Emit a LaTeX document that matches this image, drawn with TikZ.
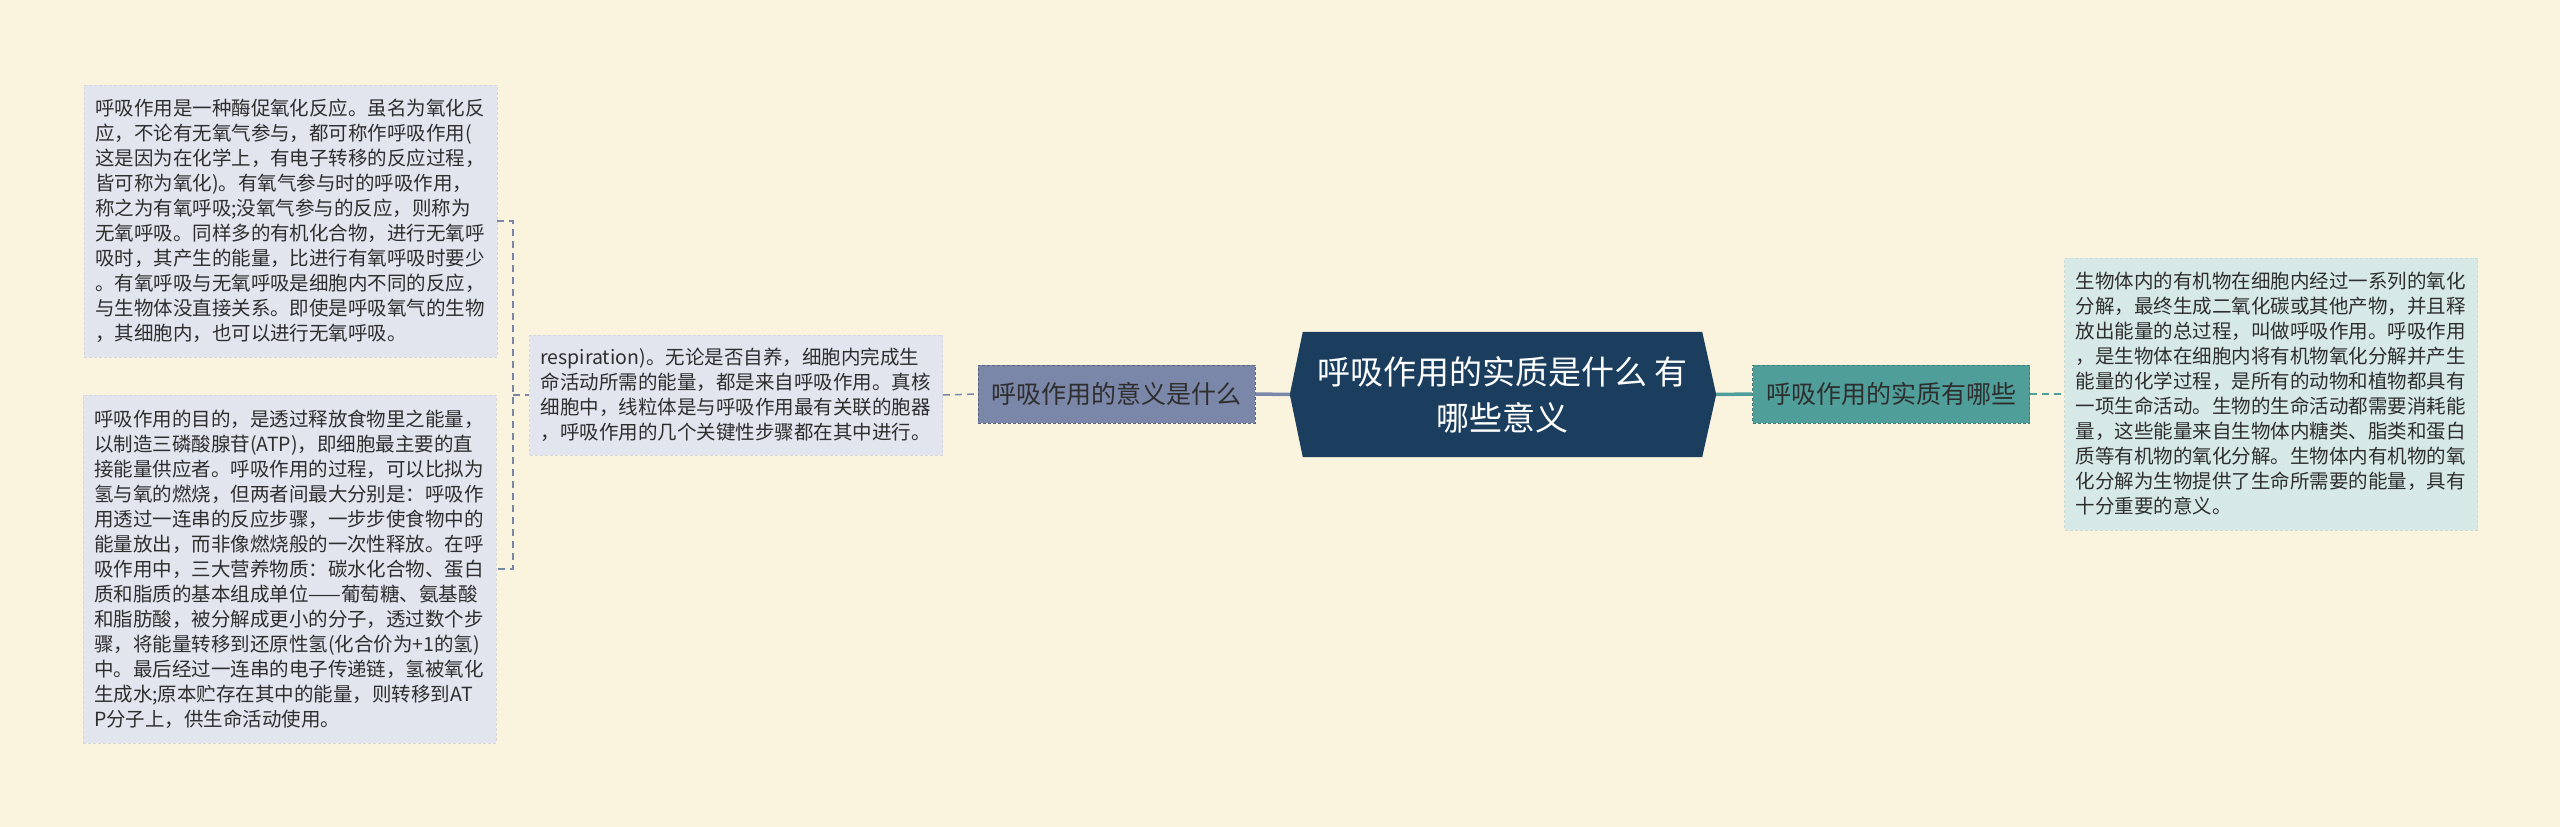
\documentclass[tikz,border=0pt]{standalone}
\usepackage{fontspec}
\setmainfont{Noto Sans CJK SC}
\usetikzlibrary{backgrounds}
\definecolor{bgcream}{HTML}{FAF4DF}
\definecolor{rootblue}{HTML}{1B3E5E}
\definecolor{leftblue}{HTML}{7B87A9}
\definecolor{leftpale}{HTML}{E2E5EE}
\definecolor{rightteal}{HTML}{4F9E9A}
\definecolor{rightpale}{HTML}{D6E9E7}
\definecolor{inkdark}{HTML}{2E2E2E}

\begin{document}
\begin{tikzpicture}[x=1pt,y=-1pt,
    leaf/.style={rectangle, text width=391pt, inner xsep=11pt, inner ysep=0pt, align=left, text=inkdark,
        densely dashed, line width=0.6pt, font=\fontsize{19.5pt}{25pt}\selectfont},
    leftleaf/.style={leaf, fill=leftpale, draw=leftpale!94!black},
    rightleaf/.style={leaf, fill=rightpale, draw=rightpale!94!black},
    branch/.style={rectangle, minimum width=277pt, minimum height=58pt, inner sep=0pt, text=inkdark,
        densely dashed, line width=1pt, font=\fontsize{25pt}{28pt}\selectfont},
    rootnode/.style={rectangle, minimum width=399pt, minimum height=125pt, inner sep=0pt, align=center,
        text=white, font=\fontsize{33pt}{46pt}\selectfont},
    lline/.style={leftblue, line width=1.5pt, dash pattern=on 7pt off 5pt},
    rline/.style={rightteal, line width=1.5pt, dash pattern=on 7pt off 5pt}]
\useasboundingbox (0,0) rectangle (2560,827);
\begin{scope}[on background layer]
    \fill[bgcream] (0,0) rectangle (2560,827);
\end{scope}

\node[rootnode] (root) at (1502.5,394.5) {呼吸作用的实质是什么 有\\哪些意义};
\begin{scope}[on background layer]
    \fill[rootblue] (root.north west) -- (root.north east) -- ([xshift=14pt]root.east)
        -- (root.south east) -- (root.south west) -- ([xshift=-13pt]root.west) -- cycle;
\end{scope}

\node[branch, fill=leftblue, draw=leftblue!75!black] (meaning) at (1116.5,394) {呼吸作用的意义是什么};
\node[branch, fill=rightteal, draw=rightteal!80!black] (essence) at (1891,394) {呼吸作用的实质有哪些};

\node[leftleaf, minimum height=120pt] (organelle) at (736,395) {respiration)。无论是否自养，细胞内完成生\\
命活动所需的能量，都是来自呼吸作用。真核\\
细胞中，线粒体是与呼吸作用最有关联的胞器\\
，呼吸作用的几个关键性步骤都在其中进行。};

\node[leftleaf, minimum height=272pt] (aerobic) at (290.5,221) {呼吸作用是一种酶促氧化反应。虽名为氧化反\\
应，不论有无氧气参与，都可称作呼吸作用(\\
这是因为在化学上，有电子转移的反应过程，\\
皆可称为氧化)。有氧气参与时的呼吸作用，\\
称之为有氧呼吸;没氧气参与的反应，则称为\\
无氧呼吸。同样多的有机化合物，进行无氧呼\\
吸时，其产生的能量，比进行有氧呼吸时要少\\
。有氧呼吸与无氧呼吸是细胞内不同的反应，\\
与生物体没直接关系。即使是呼吸氧气的生物\\
，其细胞内，也可以进行无氧呼吸。};

\node[leftleaf, minimum height=348pt] (atp) at (289.5,569) {呼吸作用的目的，是透过释放食物里之能量，\\
以制造三磷酸腺苷(ATP)，即细胞最主要的直\\
接能量供应者。呼吸作用的过程，可以比拟为\\
氢与氧的燃烧，但两者间最大分别是：呼吸作\\
用透过一连串的反应步骤，一步步使食物中的\\
能量放出，而非像燃烧般的一次性释放。在呼\\
吸作用中，三大营养物质：碳水化合物、蛋白\\
质和脂质的基本组成单位——葡萄糖、氨基酸\\
和脂肪酸，被分解成更小的分子，透过数个步\\
骤，将能量转移到还原性氢(化合价为+1的氢)\\
中。最后经过一连串的电子传递链，氢被氧化\\
生成水;原本贮存在其中的能量，则转移到AT\\
P分子上，供生命活动使用。};

\node[rightleaf, minimum height=272pt] (process) at (2271,394) {生物体内的有机物在细胞内经过一系列的氧化\\
分解，最终生成二氧化碳或其他产物，并且释\\
放出能量的总过程，叫做呼吸作用。呼吸作用\\
，是生物体在细胞内将有机物氧化分解并产生\\
能量的化学过程，是所有的动物和植物都具有\\
一项生命活动。生物的生命活动都需要消耗能\\
量，这些能量来自生物体内糖类、脂类和蛋白\\
质等有机物的氧化分解。生物体内有机物的氧\\
化分解为生物提供了生命所需要的能量，具有\\
十分重要的意义。};

\coordinate (fork) at (513,395);
\draw[lline] (aerobic.east) -| (fork) |- (atp.east);
\draw[lline] (fork) -- (organelle.west);
\draw[lline] (organelle.east) -- (meaning.west);
\draw[leftblue, line width=3.5pt] (meaning.east) -- ([xshift=-13pt]root.west);
\draw[rightteal, line width=3.5pt] ([xshift=14pt]root.east) -- (essence.west);
\draw[rline] (essence.east) -- (process.west);
\end{tikzpicture}
\end{document}
